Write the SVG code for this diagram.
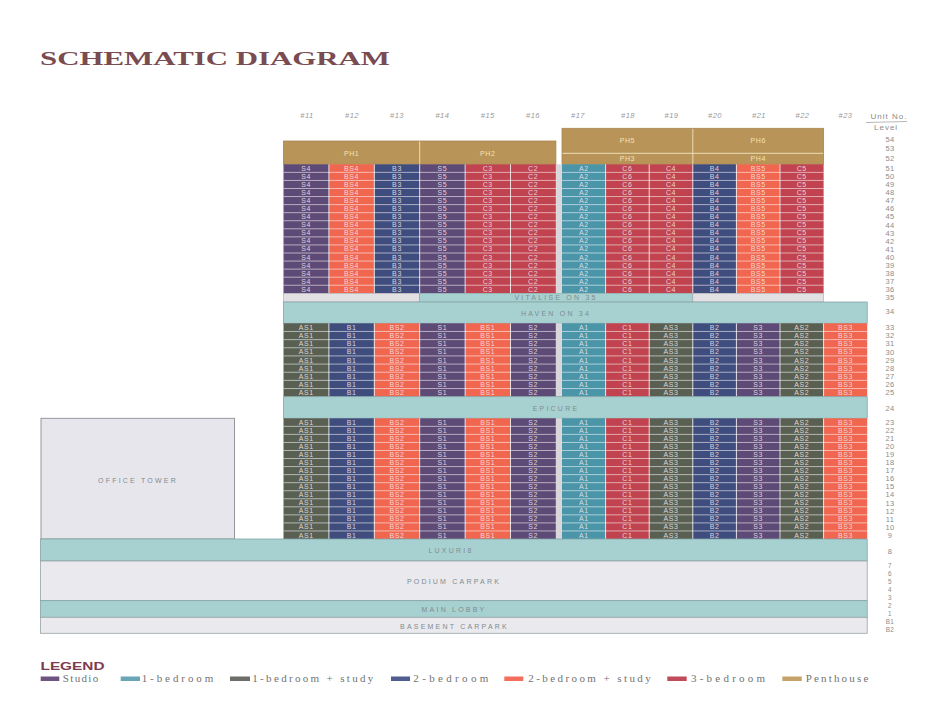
<svg xmlns="http://www.w3.org/2000/svg" width="943" height="717" viewBox="0 0 943 717">
<style>
.s{fill:#5e4a76}.bs{fill:#f0664f}.b{fill:#3f4d7e}.c{fill:#c0434f}.a{fill:#4b95a9}.as{fill:#596052}
.ph{fill:#b99459;stroke:#a8854e;stroke-width:.8}
.phl{stroke:#ecdcb4;stroke-width:1;fill:none}
.sep{stroke:#ffffff;stroke-opacity:.7;stroke-width:.8;fill:none}
.vsep{stroke:#ffffff;stroke-opacity:.75;stroke-width:1;fill:none}
.strip{fill:#d9d7d9}
.teal{fill:#a7d1d1;stroke:#86a3a5;stroke-width:.8}
.light{fill:#e9e9ee;stroke:#9aa3a6;stroke-width:.8}
.grey35{fill:#e2e0e2;stroke:#a9a9ad;stroke-width:.6}
.ct{font-family:"Liberation Sans",Arial,sans-serif;font-size:7px;fill:#f4eaf0;fill-opacity:.85;text-anchor:middle;letter-spacing:.6px}
.pht{font-family:"Liberation Sans",Arial,sans-serif;font-size:7px;fill:#f3e2b4;text-anchor:middle;letter-spacing:.6px}
.bl{font-family:"Liberation Sans",Arial,sans-serif;font-size:7px;fill:#7f8c8e;text-anchor:middle;letter-spacing:2.2px}
.lv{font-family:"Liberation Sans",Arial,sans-serif;font-size:7.5px;fill:#8c8c8c;text-anchor:middle;letter-spacing:.4px}
.lvs{font-size:6.3px}
.hd{font-family:"Liberation Sans",Arial,sans-serif;font-size:7.5px;font-style:italic;fill:#9a9a9a;text-anchor:middle;letter-spacing:.5px}
.lg{font-family:"Liberation Serif","Times New Roman",serif;font-size:11px;fill:#727272}
</style>
<rect width="943" height="717" fill="#ffffff"/>

<g id="title">
<text x="40" y="65" font-family="Liberation Serif, Times New Roman, serif" font-weight="bold" font-size="18.5" fill="#7a4b50" textLength="350" lengthAdjust="spacingAndGlyphs">SCHEMATIC DIAGRAM</text>
</g>

<g id="unit-headers">
<text class="hd" y="117.7"><tspan x="307">#11</tspan><tspan x="352">#12</tspan><tspan x="397">#13</tspan><tspan x="442.4">#14</tspan><tspan x="487.8">#15</tspan><tspan x="533">#16</tspan><tspan x="578">#17</tspan><tspan x="628">#18</tspan><tspan x="671.5">#19</tspan><tspan x="715">#20</tspan><tspan x="759">#21</tspan><tspan x="802.5">#22</tspan><tspan x="845.5">#23</tspan></text>
<text x="870.5" y="118.5" font-family="Liberation Sans, Arial, sans-serif" font-size="8" fill="#8a8a8a" letter-spacing="1">Unit No.</text>
<path d="M866 122.5L907 121.5" stroke="#9a9a9a" stroke-width=".7"/>
<text x="874" y="130" font-family="Liberation Sans, Arial, sans-serif" font-size="8" fill="#8a8a8a" letter-spacing="1">Level</text>
</g>

<g id="penthouses">
<rect class="ph" x="283.5" y="141" width="272.4" height="23.3"/>
<path class="phl" d="M419.7 141.5V164"/>
<rect class="ph" x="562" y="128.3" width="261.6" height="36"/>
<path class="phl" d="M562.5 153.3H823.2M692.8 128.8V164"/>
<text class="pht" y="155.5"><tspan x="351.6">PH1</tspan><tspan x="487.8">PH2</tspan></text>
<text class="pht" y="142.5"><tspan x="627.4">PH5</tspan><tspan x="758.2">PH6</tspan></text>
<text class="pht" y="160.8"><tspan x="627.4">PH3</tspan><tspan x="758.2">PH4</tspan></text>
</g>

<g id="upper-units">
<rect class="s" x="283.5" y="164.3" width="45.4" height="129"/>
<rect class="bs" x="328.9" y="164.3" width="45.4" height="129"/>
<rect class="b" x="374.3" y="164.3" width="45.4" height="129"/>
<rect class="s" x="419.7" y="164.3" width="45.4" height="129"/>
<rect class="c" x="465.1" y="164.3" width="45.4" height="129"/>
<rect class="c" x="510.5" y="164.3" width="45.4" height="129"/>
<rect class="a" x="562" y="164.3" width="43.6" height="129"/>
<rect class="c" x="605.6" y="164.3" width="43.6" height="129"/>
<rect class="c" x="649.2" y="164.3" width="43.6" height="129"/>
<rect class="b" x="692.8" y="164.3" width="43.6" height="129"/>
<rect class="bs" x="736.4" y="164.3" width="43.6" height="129"/>
<rect class="c" x="780" y="164.3" width="43.6" height="129"/>
<path class="sep" d="M283.5 172.36H823.6M283.5 180.43H823.6M283.5 188.49H823.6M283.5 196.55H823.6M283.5 204.61H823.6M283.5 212.68H823.6M283.5 220.74H823.6M283.5 228.8H823.6M283.5 236.86H823.6M283.5 244.93H823.6M283.5 252.99H823.6M283.5 261.05H823.6M283.5 269.11H823.6M283.5 277.18H823.6M283.5 285.24H823.6"/>
<path class="vsep" d="M328.9 164.3V293.3M374.3 164.3V293.3M419.7 164.3V293.3M465.1 164.3V293.3M510.5 164.3V293.3M605.6 164.3V293.3M649.2 164.3V293.3M692.8 164.3V293.3M736.4 164.3V293.3M780 164.3V293.3"/>
<rect class="strip" x="555.9" y="164.3" width="6.1" height="129"/>
<text class="ct" y="170.8"><tspan x="306.2">S4</tspan><tspan x="351.6">BS4</tspan><tspan x="397">B3</tspan><tspan x="442.4">S5</tspan><tspan x="487.8">C3</tspan><tspan x="533.2">C2</tspan><tspan x="583.8">A2</tspan><tspan x="627.4">C6</tspan><tspan x="671">C4</tspan><tspan x="714.6">B4</tspan><tspan x="758.2">BS5</tspan><tspan x="801.8">C5</tspan></text>
<text class="ct" y="178.9"><tspan x="306.2">S4</tspan><tspan x="351.6">BS4</tspan><tspan x="397">B3</tspan><tspan x="442.4">S5</tspan><tspan x="487.8">C3</tspan><tspan x="533.2">C2</tspan><tspan x="583.8">A2</tspan><tspan x="627.4">C6</tspan><tspan x="671">C4</tspan><tspan x="714.6">B4</tspan><tspan x="758.2">BS5</tspan><tspan x="801.8">C5</tspan></text>
<text class="ct" y="187.0"><tspan x="306.2">S4</tspan><tspan x="351.6">BS4</tspan><tspan x="397">B3</tspan><tspan x="442.4">S5</tspan><tspan x="487.8">C3</tspan><tspan x="533.2">C2</tspan><tspan x="583.8">A2</tspan><tspan x="627.4">C6</tspan><tspan x="671">C4</tspan><tspan x="714.6">B4</tspan><tspan x="758.2">BS5</tspan><tspan x="801.8">C5</tspan></text>
<text class="ct" y="195.0"><tspan x="306.2">S4</tspan><tspan x="351.6">BS4</tspan><tspan x="397">B3</tspan><tspan x="442.4">S5</tspan><tspan x="487.8">C3</tspan><tspan x="533.2">C2</tspan><tspan x="583.8">A2</tspan><tspan x="627.4">C6</tspan><tspan x="671">C4</tspan><tspan x="714.6">B4</tspan><tspan x="758.2">BS5</tspan><tspan x="801.8">C5</tspan></text>
<text class="ct" y="203.1"><tspan x="306.2">S4</tspan><tspan x="351.6">BS4</tspan><tspan x="397">B3</tspan><tspan x="442.4">S5</tspan><tspan x="487.8">C3</tspan><tspan x="533.2">C2</tspan><tspan x="583.8">A2</tspan><tspan x="627.4">C6</tspan><tspan x="671">C4</tspan><tspan x="714.6">B4</tspan><tspan x="758.2">BS5</tspan><tspan x="801.8">C5</tspan></text>
<text class="ct" y="211.1"><tspan x="306.2">S4</tspan><tspan x="351.6">BS4</tspan><tspan x="397">B3</tspan><tspan x="442.4">S5</tspan><tspan x="487.8">C3</tspan><tspan x="533.2">C2</tspan><tspan x="583.8">A2</tspan><tspan x="627.4">C6</tspan><tspan x="671">C4</tspan><tspan x="714.6">B4</tspan><tspan x="758.2">BS5</tspan><tspan x="801.8">C5</tspan></text>
<text class="ct" y="219.2"><tspan x="306.2">S4</tspan><tspan x="351.6">BS4</tspan><tspan x="397">B3</tspan><tspan x="442.4">S5</tspan><tspan x="487.8">C3</tspan><tspan x="533.2">C2</tspan><tspan x="583.8">A2</tspan><tspan x="627.4">C6</tspan><tspan x="671">C4</tspan><tspan x="714.6">B4</tspan><tspan x="758.2">BS5</tspan><tspan x="801.8">C5</tspan></text>
<text class="ct" y="227.3"><tspan x="306.2">S4</tspan><tspan x="351.6">BS4</tspan><tspan x="397">B3</tspan><tspan x="442.4">S5</tspan><tspan x="487.8">C3</tspan><tspan x="533.2">C2</tspan><tspan x="583.8">A2</tspan><tspan x="627.4">C6</tspan><tspan x="671">C4</tspan><tspan x="714.6">B4</tspan><tspan x="758.2">BS5</tspan><tspan x="801.8">C5</tspan></text>
<text class="ct" y="235.3"><tspan x="306.2">S4</tspan><tspan x="351.6">BS4</tspan><tspan x="397">B3</tspan><tspan x="442.4">S5</tspan><tspan x="487.8">C3</tspan><tspan x="533.2">C2</tspan><tspan x="583.8">A2</tspan><tspan x="627.4">C6</tspan><tspan x="671">C4</tspan><tspan x="714.6">B4</tspan><tspan x="758.2">BS5</tspan><tspan x="801.8">C5</tspan></text>
<text class="ct" y="243.4"><tspan x="306.2">S4</tspan><tspan x="351.6">BS4</tspan><tspan x="397">B3</tspan><tspan x="442.4">S5</tspan><tspan x="487.8">C3</tspan><tspan x="533.2">C2</tspan><tspan x="583.8">A2</tspan><tspan x="627.4">C6</tspan><tspan x="671">C4</tspan><tspan x="714.6">B4</tspan><tspan x="758.2">BS5</tspan><tspan x="801.8">C5</tspan></text>
<text class="ct" y="251.4"><tspan x="306.2">S4</tspan><tspan x="351.6">BS4</tspan><tspan x="397">B3</tspan><tspan x="442.4">S5</tspan><tspan x="487.8">C3</tspan><tspan x="533.2">C2</tspan><tspan x="583.8">A2</tspan><tspan x="627.4">C6</tspan><tspan x="671">C4</tspan><tspan x="714.6">B4</tspan><tspan x="758.2">BS5</tspan><tspan x="801.8">C5</tspan></text>
<text class="ct" y="259.5"><tspan x="306.2">S4</tspan><tspan x="351.6">BS4</tspan><tspan x="397">B3</tspan><tspan x="442.4">S5</tspan><tspan x="487.8">C3</tspan><tspan x="533.2">C2</tspan><tspan x="583.8">A2</tspan><tspan x="627.4">C6</tspan><tspan x="671">C4</tspan><tspan x="714.6">B4</tspan><tspan x="758.2">BS5</tspan><tspan x="801.8">C5</tspan></text>
<text class="ct" y="267.6"><tspan x="306.2">S4</tspan><tspan x="351.6">BS4</tspan><tspan x="397">B3</tspan><tspan x="442.4">S5</tspan><tspan x="487.8">C3</tspan><tspan x="533.2">C2</tspan><tspan x="583.8">A2</tspan><tspan x="627.4">C6</tspan><tspan x="671">C4</tspan><tspan x="714.6">B4</tspan><tspan x="758.2">BS5</tspan><tspan x="801.8">C5</tspan></text>
<text class="ct" y="275.6"><tspan x="306.2">S4</tspan><tspan x="351.6">BS4</tspan><tspan x="397">B3</tspan><tspan x="442.4">S5</tspan><tspan x="487.8">C3</tspan><tspan x="533.2">C2</tspan><tspan x="583.8">A2</tspan><tspan x="627.4">C6</tspan><tspan x="671">C4</tspan><tspan x="714.6">B4</tspan><tspan x="758.2">BS5</tspan><tspan x="801.8">C5</tspan></text>
<text class="ct" y="283.7"><tspan x="306.2">S4</tspan><tspan x="351.6">BS4</tspan><tspan x="397">B3</tspan><tspan x="442.4">S5</tspan><tspan x="487.8">C3</tspan><tspan x="533.2">C2</tspan><tspan x="583.8">A2</tspan><tspan x="627.4">C6</tspan><tspan x="671">C4</tspan><tspan x="714.6">B4</tspan><tspan x="758.2">BS5</tspan><tspan x="801.8">C5</tspan></text>
<text class="ct" y="291.7"><tspan x="306.2">S4</tspan><tspan x="351.6">BS4</tspan><tspan x="397">B3</tspan><tspan x="442.4">S5</tspan><tspan x="487.8">C3</tspan><tspan x="533.2">C2</tspan><tspan x="583.8">A2</tspan><tspan x="627.4">C6</tspan><tspan x="671">C4</tspan><tspan x="714.6">B4</tspan><tspan x="758.2">BS5</tspan><tspan x="801.8">C5</tspan></text>
</g>

<g id="vitalise-on-35">
<rect class="grey35" x="283.5" y="293.3" width="136.2" height="8.7"/>
<rect x="419.7" y="293.3" width="273.1" height="8.7" fill="#a7d1d1" stroke="#86a3a5" stroke-width=".6"/>
<rect class="grey35" x="692.8" y="293.3" width="130.8" height="8.7"/>
<text class="bl" x="556" y="300.4" letter-spacing="1.6">VITALISE ON 35</text>
</g>

<g id="haven-on-34">
<rect class="teal" x="283.5" y="302" width="583.7" height="21.3"/>
<text class="bl" x="556" y="316">HAVEN ON 34</text>
</g>

<g id="mid-units">
<rect class="as" x="283.5" y="323.3" width="45.4" height="73.4"/>
<rect class="b" x="328.9" y="323.3" width="45.4" height="73.4"/>
<rect class="bs" x="374.3" y="323.3" width="45.4" height="73.4"/>
<rect class="s" x="419.7" y="323.3" width="45.4" height="73.4"/>
<rect class="bs" x="465.1" y="323.3" width="45.4" height="73.4"/>
<rect class="s" x="510.5" y="323.3" width="45.4" height="73.4"/>
<rect class="a" x="562" y="323.3" width="43.6" height="73.4"/>
<rect class="c" x="605.6" y="323.3" width="43.6" height="73.4"/>
<rect class="as" x="649.2" y="323.3" width="43.6" height="73.4"/>
<rect class="b" x="692.8" y="323.3" width="43.6" height="73.4"/>
<rect class="s" x="736.4" y="323.3" width="43.6" height="73.4"/>
<rect class="as" x="780" y="323.3" width="43.6" height="73.4"/>
<rect class="bs" x="823.6" y="323.3" width="43.6" height="73.4"/>
<path class="sep" d="M283.5 331.46H867.2M283.5 339.61H867.2M283.5 347.77H867.2M283.5 355.92H867.2M283.5 364.08H867.2M283.5 372.24H867.2M283.5 380.39H867.2M283.5 388.55H867.2"/>
<path class="vsep" d="M328.9 323.3V396.7M374.3 323.3V396.7M419.7 323.3V396.7M465.1 323.3V396.7M510.5 323.3V396.7M605.6 323.3V396.7M649.2 323.3V396.7M692.8 323.3V396.7M736.4 323.3V396.7M780 323.3V396.7M823.6 323.3V396.7"/>
<rect class="strip" x="555.9" y="323.3" width="6.1" height="73.4"/>
<text class="ct" y="329.9"><tspan x="306.2">AS1</tspan><tspan x="351.6">B1</tspan><tspan x="397">BS2</tspan><tspan x="442.4">S1</tspan><tspan x="487.8">BS1</tspan><tspan x="533.2">S2</tspan><tspan x="583.8">A1</tspan><tspan x="627.4">C1</tspan><tspan x="671">AS3</tspan><tspan x="714.6">B2</tspan><tspan x="758.2">S3</tspan><tspan x="801.8">AS2</tspan><tspan x="845.4">BS3</tspan></text>
<text class="ct" y="338.0"><tspan x="306.2">AS1</tspan><tspan x="351.6">B1</tspan><tspan x="397">BS2</tspan><tspan x="442.4">S1</tspan><tspan x="487.8">BS1</tspan><tspan x="533.2">S2</tspan><tspan x="583.8">A1</tspan><tspan x="627.4">C1</tspan><tspan x="671">AS3</tspan><tspan x="714.6">B2</tspan><tspan x="758.2">S3</tspan><tspan x="801.8">AS2</tspan><tspan x="845.4">BS3</tspan></text>
<text class="ct" y="346.2"><tspan x="306.2">AS1</tspan><tspan x="351.6">B1</tspan><tspan x="397">BS2</tspan><tspan x="442.4">S1</tspan><tspan x="487.8">BS1</tspan><tspan x="533.2">S2</tspan><tspan x="583.8">A1</tspan><tspan x="627.4">C1</tspan><tspan x="671">AS3</tspan><tspan x="714.6">B2</tspan><tspan x="758.2">S3</tspan><tspan x="801.8">AS2</tspan><tspan x="845.4">BS3</tspan></text>
<text class="ct" y="354.3"><tspan x="306.2">AS1</tspan><tspan x="351.6">B1</tspan><tspan x="397">BS2</tspan><tspan x="442.4">S1</tspan><tspan x="487.8">BS1</tspan><tspan x="533.2">S2</tspan><tspan x="583.8">A1</tspan><tspan x="627.4">C1</tspan><tspan x="671">AS3</tspan><tspan x="714.6">B2</tspan><tspan x="758.2">S3</tspan><tspan x="801.8">AS2</tspan><tspan x="845.4">BS3</tspan></text>
<text class="ct" y="362.5"><tspan x="306.2">AS1</tspan><tspan x="351.6">B1</tspan><tspan x="397">BS2</tspan><tspan x="442.4">S1</tspan><tspan x="487.8">BS1</tspan><tspan x="533.2">S2</tspan><tspan x="583.8">A1</tspan><tspan x="627.4">C1</tspan><tspan x="671">AS3</tspan><tspan x="714.6">B2</tspan><tspan x="758.2">S3</tspan><tspan x="801.8">AS2</tspan><tspan x="845.4">BS3</tspan></text>
<text class="ct" y="370.7"><tspan x="306.2">AS1</tspan><tspan x="351.6">B1</tspan><tspan x="397">BS2</tspan><tspan x="442.4">S1</tspan><tspan x="487.8">BS1</tspan><tspan x="533.2">S2</tspan><tspan x="583.8">A1</tspan><tspan x="627.4">C1</tspan><tspan x="671">AS3</tspan><tspan x="714.6">B2</tspan><tspan x="758.2">S3</tspan><tspan x="801.8">AS2</tspan><tspan x="845.4">BS3</tspan></text>
<text class="ct" y="378.8"><tspan x="306.2">AS1</tspan><tspan x="351.6">B1</tspan><tspan x="397">BS2</tspan><tspan x="442.4">S1</tspan><tspan x="487.8">BS1</tspan><tspan x="533.2">S2</tspan><tspan x="583.8">A1</tspan><tspan x="627.4">C1</tspan><tspan x="671">AS3</tspan><tspan x="714.6">B2</tspan><tspan x="758.2">S3</tspan><tspan x="801.8">AS2</tspan><tspan x="845.4">BS3</tspan></text>
<text class="ct" y="387.0"><tspan x="306.2">AS1</tspan><tspan x="351.6">B1</tspan><tspan x="397">BS2</tspan><tspan x="442.4">S1</tspan><tspan x="487.8">BS1</tspan><tspan x="533.2">S2</tspan><tspan x="583.8">A1</tspan><tspan x="627.4">C1</tspan><tspan x="671">AS3</tspan><tspan x="714.6">B2</tspan><tspan x="758.2">S3</tspan><tspan x="801.8">AS2</tspan><tspan x="845.4">BS3</tspan></text>
<text class="ct" y="395.1"><tspan x="306.2">AS1</tspan><tspan x="351.6">B1</tspan><tspan x="397">BS2</tspan><tspan x="442.4">S1</tspan><tspan x="487.8">BS1</tspan><tspan x="533.2">S2</tspan><tspan x="583.8">A1</tspan><tspan x="627.4">C1</tspan><tspan x="671">AS3</tspan><tspan x="714.6">B2</tspan><tspan x="758.2">S3</tspan><tspan x="801.8">AS2</tspan><tspan x="845.4">BS3</tspan></text>
</g>

<g id="epicure">
<rect class="teal" x="283.5" y="396.7" width="583.7" height="21.6"/>
<text class="bl" x="556" y="411">EPICURE</text>
</g>

<g id="lower-units">
<rect class="as" x="283.5" y="418.3" width="45.4" height="120.7"/>
<rect class="b" x="328.9" y="418.3" width="45.4" height="120.7"/>
<rect class="bs" x="374.3" y="418.3" width="45.4" height="120.7"/>
<rect class="s" x="419.7" y="418.3" width="45.4" height="120.7"/>
<rect class="bs" x="465.1" y="418.3" width="45.4" height="120.7"/>
<rect class="s" x="510.5" y="418.3" width="45.4" height="120.7"/>
<rect class="a" x="562" y="418.3" width="43.6" height="120.7"/>
<rect class="c" x="605.6" y="418.3" width="43.6" height="120.7"/>
<rect class="as" x="649.2" y="418.3" width="43.6" height="120.7"/>
<rect class="b" x="692.8" y="418.3" width="43.6" height="120.7"/>
<rect class="s" x="736.4" y="418.3" width="43.6" height="120.7"/>
<rect class="as" x="780" y="418.3" width="43.6" height="120.7"/>
<rect class="bs" x="823.6" y="418.3" width="43.6" height="120.7"/>
<path class="sep" d="M283.5 426.35H867.2M283.5 434.39H867.2M283.5 442.44H867.2M283.5 450.49H867.2M283.5 458.54H867.2M283.5 466.58H867.2M283.5 474.63H867.2M283.5 482.68H867.2M283.5 490.72H867.2M283.5 498.77H867.2M283.5 506.82H867.2M283.5 514.86H867.2M283.5 522.91H867.2M283.5 530.96H867.2"/>
<path class="vsep" d="M328.9 418.3V539M374.3 418.3V539M419.7 418.3V539M465.1 418.3V539M510.5 418.3V539M605.6 418.3V539M649.2 418.3V539M692.8 418.3V539M736.4 418.3V539M780 418.3V539M823.6 418.3V539"/>
<rect class="strip" x="555.9" y="418.3" width="6.1" height="120.7"/>
<text class="ct" y="424.8"><tspan x="306.2">AS1</tspan><tspan x="351.6">B1</tspan><tspan x="397">BS2</tspan><tspan x="442.4">S1</tspan><tspan x="487.8">BS1</tspan><tspan x="533.2">S2</tspan><tspan x="583.8">A1</tspan><tspan x="627.4">C1</tspan><tspan x="671">AS3</tspan><tspan x="714.6">B2</tspan><tspan x="758.2">S3</tspan><tspan x="801.8">AS2</tspan><tspan x="845.4">BS3</tspan></text>
<text class="ct" y="432.9"><tspan x="306.2">AS1</tspan><tspan x="351.6">B1</tspan><tspan x="397">BS2</tspan><tspan x="442.4">S1</tspan><tspan x="487.8">BS1</tspan><tspan x="533.2">S2</tspan><tspan x="583.8">A1</tspan><tspan x="627.4">C1</tspan><tspan x="671">AS3</tspan><tspan x="714.6">B2</tspan><tspan x="758.2">S3</tspan><tspan x="801.8">AS2</tspan><tspan x="845.4">BS3</tspan></text>
<text class="ct" y="440.9"><tspan x="306.2">AS1</tspan><tspan x="351.6">B1</tspan><tspan x="397">BS2</tspan><tspan x="442.4">S1</tspan><tspan x="487.8">BS1</tspan><tspan x="533.2">S2</tspan><tspan x="583.8">A1</tspan><tspan x="627.4">C1</tspan><tspan x="671">AS3</tspan><tspan x="714.6">B2</tspan><tspan x="758.2">S3</tspan><tspan x="801.8">AS2</tspan><tspan x="845.4">BS3</tspan></text>
<text class="ct" y="449.0"><tspan x="306.2">AS1</tspan><tspan x="351.6">B1</tspan><tspan x="397">BS2</tspan><tspan x="442.4">S1</tspan><tspan x="487.8">BS1</tspan><tspan x="533.2">S2</tspan><tspan x="583.8">A1</tspan><tspan x="627.4">C1</tspan><tspan x="671">AS3</tspan><tspan x="714.6">B2</tspan><tspan x="758.2">S3</tspan><tspan x="801.8">AS2</tspan><tspan x="845.4">BS3</tspan></text>
<text class="ct" y="457.0"><tspan x="306.2">AS1</tspan><tspan x="351.6">B1</tspan><tspan x="397">BS2</tspan><tspan x="442.4">S1</tspan><tspan x="487.8">BS1</tspan><tspan x="533.2">S2</tspan><tspan x="583.8">A1</tspan><tspan x="627.4">C1</tspan><tspan x="671">AS3</tspan><tspan x="714.6">B2</tspan><tspan x="758.2">S3</tspan><tspan x="801.8">AS2</tspan><tspan x="845.4">BS3</tspan></text>
<text class="ct" y="465.0"><tspan x="306.2">AS1</tspan><tspan x="351.6">B1</tspan><tspan x="397">BS2</tspan><tspan x="442.4">S1</tspan><tspan x="487.8">BS1</tspan><tspan x="533.2">S2</tspan><tspan x="583.8">A1</tspan><tspan x="627.4">C1</tspan><tspan x="671">AS3</tspan><tspan x="714.6">B2</tspan><tspan x="758.2">S3</tspan><tspan x="801.8">AS2</tspan><tspan x="845.4">BS3</tspan></text>
<text class="ct" y="473.1"><tspan x="306.2">AS1</tspan><tspan x="351.6">B1</tspan><tspan x="397">BS2</tspan><tspan x="442.4">S1</tspan><tspan x="487.8">BS1</tspan><tspan x="533.2">S2</tspan><tspan x="583.8">A1</tspan><tspan x="627.4">C1</tspan><tspan x="671">AS3</tspan><tspan x="714.6">B2</tspan><tspan x="758.2">S3</tspan><tspan x="801.8">AS2</tspan><tspan x="845.4">BS3</tspan></text>
<text class="ct" y="481.1"><tspan x="306.2">AS1</tspan><tspan x="351.6">B1</tspan><tspan x="397">BS2</tspan><tspan x="442.4">S1</tspan><tspan x="487.8">BS1</tspan><tspan x="533.2">S2</tspan><tspan x="583.8">A1</tspan><tspan x="627.4">C1</tspan><tspan x="671">AS3</tspan><tspan x="714.6">B2</tspan><tspan x="758.2">S3</tspan><tspan x="801.8">AS2</tspan><tspan x="845.4">BS3</tspan></text>
<text class="ct" y="489.2"><tspan x="306.2">AS1</tspan><tspan x="351.6">B1</tspan><tspan x="397">BS2</tspan><tspan x="442.4">S1</tspan><tspan x="487.8">BS1</tspan><tspan x="533.2">S2</tspan><tspan x="583.8">A1</tspan><tspan x="627.4">C1</tspan><tspan x="671">AS3</tspan><tspan x="714.6">B2</tspan><tspan x="758.2">S3</tspan><tspan x="801.8">AS2</tspan><tspan x="845.4">BS3</tspan></text>
<text class="ct" y="497.2"><tspan x="306.2">AS1</tspan><tspan x="351.6">B1</tspan><tspan x="397">BS2</tspan><tspan x="442.4">S1</tspan><tspan x="487.8">BS1</tspan><tspan x="533.2">S2</tspan><tspan x="583.8">A1</tspan><tspan x="627.4">C1</tspan><tspan x="671">AS3</tspan><tspan x="714.6">B2</tspan><tspan x="758.2">S3</tspan><tspan x="801.8">AS2</tspan><tspan x="845.4">BS3</tspan></text>
<text class="ct" y="505.3"><tspan x="306.2">AS1</tspan><tspan x="351.6">B1</tspan><tspan x="397">BS2</tspan><tspan x="442.4">S1</tspan><tspan x="487.8">BS1</tspan><tspan x="533.2">S2</tspan><tspan x="583.8">A1</tspan><tspan x="627.4">C1</tspan><tspan x="671">AS3</tspan><tspan x="714.6">B2</tspan><tspan x="758.2">S3</tspan><tspan x="801.8">AS2</tspan><tspan x="845.4">BS3</tspan></text>
<text class="ct" y="513.3"><tspan x="306.2">AS1</tspan><tspan x="351.6">B1</tspan><tspan x="397">BS2</tspan><tspan x="442.4">S1</tspan><tspan x="487.8">BS1</tspan><tspan x="533.2">S2</tspan><tspan x="583.8">A1</tspan><tspan x="627.4">C1</tspan><tspan x="671">AS3</tspan><tspan x="714.6">B2</tspan><tspan x="758.2">S3</tspan><tspan x="801.8">AS2</tspan><tspan x="845.4">BS3</tspan></text>
<text class="ct" y="521.4"><tspan x="306.2">AS1</tspan><tspan x="351.6">B1</tspan><tspan x="397">BS2</tspan><tspan x="442.4">S1</tspan><tspan x="487.8">BS1</tspan><tspan x="533.2">S2</tspan><tspan x="583.8">A1</tspan><tspan x="627.4">C1</tspan><tspan x="671">AS3</tspan><tspan x="714.6">B2</tspan><tspan x="758.2">S3</tspan><tspan x="801.8">AS2</tspan><tspan x="845.4">BS3</tspan></text>
<text class="ct" y="529.4"><tspan x="306.2">AS1</tspan><tspan x="351.6">B1</tspan><tspan x="397">BS2</tspan><tspan x="442.4">S1</tspan><tspan x="487.8">BS1</tspan><tspan x="533.2">S2</tspan><tspan x="583.8">A1</tspan><tspan x="627.4">C1</tspan><tspan x="671">AS3</tspan><tspan x="714.6">B2</tspan><tspan x="758.2">S3</tspan><tspan x="801.8">AS2</tspan><tspan x="845.4">BS3</tspan></text>
<text class="ct" y="537.5"><tspan x="306.2">AS1</tspan><tspan x="351.6">B1</tspan><tspan x="397">BS2</tspan><tspan x="442.4">S1</tspan><tspan x="487.8">BS1</tspan><tspan x="533.2">S2</tspan><tspan x="583.8">A1</tspan><tspan x="627.4">C1</tspan><tspan x="671">AS3</tspan><tspan x="714.6">B2</tspan><tspan x="758.2">S3</tspan><tspan x="801.8">AS2</tspan><tspan x="845.4">BS3</tspan></text>
</g>

<g id="office-tower">
<rect x="41" y="418.3" width="193.5" height="120.7" fill="#e7e6ec" stroke="#8d8d93" stroke-width=".9"/>
<text class="bl" x="138" y="482.5" letter-spacing="1.8">OFFICE TOWER</text>
</g>

<g id="luxuri8">
<rect class="teal" x="40.5" y="539" width="826.7" height="22"/>
<text class="bl" x="451" y="552.5">LUXURI8</text>
</g>
<g id="podium-carpark">
<rect class="light" x="40.5" y="561" width="826.7" height="39.7"/>
<text class="bl" x="454" y="584">PODIUM CARPARK</text>
</g>
<g id="main-lobby">
<rect class="teal" x="40.5" y="600.7" width="826.7" height="16.6"/>
<text class="bl" x="454" y="612">MAIN LOBBY</text>
</g>
<g id="basement-carpark">
<rect class="light" x="40.5" y="617.3" width="826.7" height="16"/>
<text class="bl" x="454.5" y="629">BASEMENT CARPARK</text>
</g>

<g id="level-labels" class="lv">
<text x="890" y="141.5">54</text><text x="890" y="151">53</text><text x="890" y="160.5">52</text>
<text x="890" y="171.0">51</text><text x="890" y="179.1">50</text><text x="890" y="187.2">49</text><text x="890" y="195.2">48</text>
<text x="890" y="203.3">47</text><text x="890" y="211.3">46</text><text x="890" y="219.4">45</text><text x="890" y="227.5">44</text>
<text x="890" y="235.5">43</text><text x="890" y="243.6">42</text><text x="890" y="251.6">41</text><text x="890" y="259.7">40</text>
<text x="890" y="267.8">39</text><text x="890" y="275.8">38</text><text x="890" y="283.9">37</text><text x="890" y="291.9">36</text>
<text x="890" y="300.2">35</text><text x="890" y="314.4">34</text>
<text x="890" y="330.1">33</text><text x="890" y="338.2">32</text><text x="890" y="346.4">31</text><text x="890" y="354.5">30</text>
<text x="890" y="362.7">29</text><text x="890" y="370.9">28</text><text x="890" y="379.0">27</text><text x="890" y="387.2">26</text>
<text x="890" y="395.3">25</text><text x="890" y="410.5">24</text>
<text x="890" y="425.0">23</text><text x="890" y="433.1">22</text><text x="890" y="441.1">21</text><text x="890" y="449.2">20</text>
<text x="890" y="457.2">19</text><text x="890" y="465.2">18</text><text x="890" y="473.3">17</text><text x="890" y="481.3">16</text>
<text x="890" y="489.4">15</text><text x="890" y="497.4">14</text><text x="890" y="505.5">13</text><text x="890" y="513.5">12</text>
<text x="890" y="521.6">11</text><text x="890" y="529.6">10</text><text x="890" y="537.7">9</text>
<text x="890" y="553.7">8</text>
<text class="lvs" x="890" y="568">7</text><text class="lvs" x="890" y="575.9">6</text><text class="lvs" x="890" y="583.9">5</text>
<text class="lvs" x="890" y="591.8">4</text><text class="lvs" x="890" y="599.8">3</text><text class="lvs" x="890" y="607.7">2</text><text class="lvs" x="890" y="615.6">1</text>
<text class="lvs" x="890" y="623.6">B1</text><text class="lvs" x="890" y="631.5">B2</text>
</g>

<g id="legend">
<text x="40.5" y="670" font-family="Liberation Sans, Arial, sans-serif" font-weight="bold" font-size="10.5" fill="#7d3a51" textLength="64" lengthAdjust="spacingAndGlyphs">LEGEND</text>
<rect x="40.7" y="676.5" width="18.6" height="4.5" fill="#6e5581"/>
<text class="lg" x="62.7" y="681.5" textLength="35.6">Studio</text>
<rect x="120.7" y="676.5" width="19.3" height="4.5" fill="#6aa6b8"/>
<text class="lg" x="141.7" y="681.5" textLength="71.6">1-bedroom</text>
<rect x="230" y="676.5" width="20" height="4.5" fill="#6d6e69"/>
<text class="lg" x="252.3" y="681.5" textLength="121">1-bedroom + study</text>
<rect x="391" y="676.5" width="19" height="4.5" fill="#4f5c8e"/>
<text class="lg" x="413.3" y="681.5" textLength="75">2-bedroom</text>
<rect x="504.3" y="676.5" width="19" height="4.5" fill="#f36f5c"/>
<text class="lg" x="528.3" y="681.5" textLength="122.4">2-bedroom + study</text>
<rect x="667.3" y="676.5" width="19.4" height="4.5" fill="#c24b5a"/>
<text class="lg" x="691" y="681.5" textLength="74">3-bedroom</text>
<rect x="782.3" y="676.5" width="19.4" height="4.5" fill="#c4a268"/>
<text class="lg" x="805.7" y="681.5" textLength="62.6">Penthouse</text>
</g>
</svg>
